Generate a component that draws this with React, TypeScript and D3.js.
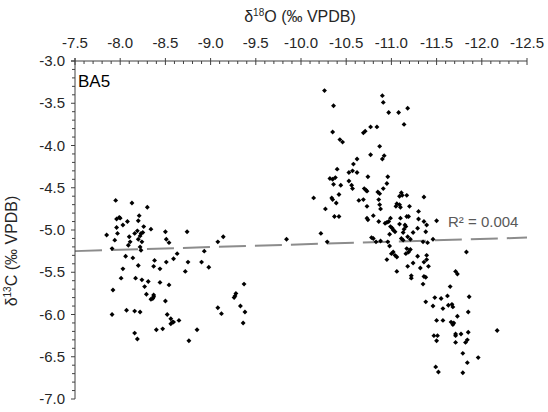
import React from "react";
import * as d3 from "d3";

// δ18O (x) and δ13C (y) pairs
const clusterLow: [number, number][] = [
  [-7.95,-4.65],[-8.13,-4.68],[-8.30,-4.73],[-7.96,-4.87],[-7.99,-4.85],[-8.00,-4.86],[-8.21,-4.83],[-8.20,-4.89],[-8.08,-4.90],[-8.03,-4.94],
  [-7.96,-4.97],[-8.26,-4.96],[-8.34,-4.99],[-7.85,-5.06],[-7.97,-5.04],[-8.16,-5.04],[-8.19,-5.01],[-8.23,-5.04],[-8.25,-5.03],[-8.10,-5.08],
  [-8.22,-5.07],[-7.94,-5.12],[-8.20,-5.11],[-8.24,-5.14],[-8.11,-5.14],[-8.09,-5.18],[-8.50,-5.02],[-8.51,-5.11],[-8.54,-5.15],[-8.74,-5.02],
  [-7.91,-5.22],[-8.23,-5.24],[-8.22,-5.20],[-9.08,-5.14],[-9.14,-5.08],[-8.93,-5.25],[-8.06,-5.31],[-8.14,-5.33],[-8.63,-5.28],[-8.59,-5.34],
  [-8.38,-5.36],[-8.51,-5.38],[-8.75,-5.38],[-8.90,-5.38],[-8.20,-5.42],[-8.37,-5.43],[-8.44,-5.46],[-8.03,-5.46],[-8.98,-5.44],[-8.72,-5.49],
  [-8.01,-5.57],[-8.17,-5.57],[-8.24,-5.59],[-8.31,-5.61],[-8.44,-5.62],[-8.27,-5.67],[-8.54,-5.65],[-7.92,-5.71],[-9.37,-5.64],[-8.29,-5.76],
  [-8.37,-5.77],[-8.37,-5.79],[-8.34,-5.82],[-8.36,-5.81],[-9.28,-5.75],[-9.27,-5.78],[-9.26,-5.80],[-8.50,-5.84],[-9.33,-5.90],[-9.08,-5.92],
  [-8.07,-5.95],[-8.16,-5.96],[-8.22,-5.97],[-7.91,-6.00],[-9.12,-5.99],[-9.38,-5.97],[-8.52,-6.00],[-8.56,-6.05],[-8.59,-6.09],[-8.56,-6.11],
  [-8.58,-6.09],[-8.65,-6.07],[-9.36,-6.10],[-8.16,-6.22],[-8.19,-6.29],[-8.40,-6.18],[-8.47,-6.17],[-8.85,-6.18],[-8.76,-6.31],
  [-9.84,-5.11],[-10.22,-5.04],[-10.29,-5.14],
];

const clusterHighUpper: [number, number][] = [
  [-10.26,-3.35],[-10.90,-3.41],[-10.91,-3.49],[-10.36,-3.53],[-10.97,-3.61],[-11.08,-3.61],[-11.18,-3.56],[-11.14,-3.75],[-10.77,-3.78],[-10.84,-3.78],
  [-10.71,-3.83],[-10.69,-3.85],[-10.35,-3.84],[-10.43,-3.93],[-10.46,-3.96],[-10.87,-4.01],[-10.77,-4.11],[-10.92,-4.12],[-10.90,-4.16],[-10.62,-4.16],
  [-10.58,-4.22],[-10.57,-4.30],[-10.53,-4.32],[-10.62,-4.32],[-10.40,-4.28],[-10.74,-4.37],[-10.96,-4.37],[-10.32,-4.39],[-10.35,-4.40],[-10.38,-4.38],
  [-10.36,-4.46],[-10.44,-4.47],[-10.53,-4.42],[-10.56,-4.47],[-10.57,-4.51],[-10.95,-4.45],[-10.91,-4.51],[-10.70,-4.51],[-10.72,-4.53],[-10.73,-4.54],
  [-10.85,-4.55],[-10.87,-4.57],[-10.42,-4.58],[-10.34,-4.62],[-10.35,-4.64],[-10.14,-4.62],[-10.39,-4.68],[-10.64,-4.65],[-10.69,-4.64],[-11.11,-4.56],
  [-11.09,-4.60],[-11.12,-4.59],[-11.17,-4.59],[-11.36,-4.61],[-10.86,-4.64],[-10.73,-4.72],[-10.87,-4.70],[-11.06,-4.69],[-11.05,-4.72],[-11.09,-4.70],
  [-11.10,-4.73],[-10.27,-4.75],[-11.20,-4.72],[-10.37,-4.84],[-10.42,-4.84],[-10.73,-4.86],[-10.74,-4.88],[-10.80,-4.83],[-10.88,-4.75],[-10.99,-4.86],
  [-11.10,-4.86],[-11.17,-4.84],[-11.19,-4.84],[-11.30,-4.78],[-11.30,-4.87],[-10.86,-4.90],[-10.93,-4.92],[-10.95,-4.91],[-10.97,-4.90],[-10.99,-4.96],
  [-11.01,-4.98],[-11.02,-5.00],[-11.09,-4.93],[-11.15,-4.94],[-11.16,-4.96],[-11.36,-4.90],[-11.39,-4.94],[-11.04,-5.02],[-10.98,-5.05],[-11.14,-4.99],
  [-11.13,-5.03],[-11.24,-5.03],[-11.29,-4.98],[-11.38,-5.02],[-10.78,-5.09],[-10.80,-5.10],[-10.83,-5.14],[-10.88,-5.13],[-10.96,-5.14],[-11.11,-5.10],
  [-11.13,-5.12],[-11.18,-5.08],[-11.21,-5.11],[-11.35,-5.14],[-11.40,-5.15],[-10.98,-5.19],[-11.02,-5.26],[-11.04,-5.30],[-11.06,-5.32],[-11.00,-5.28],
  [-11.17,-5.22],[-11.19,-5.26],[-11.16,-5.28],[-11.21,-5.23],[-11.29,-5.31],[-11.39,-5.30],[-10.95,-5.35],[-11.18,-5.43],[-11.24,-5.39],[-11.32,-5.45],
  [-11.36,-5.38],[-11.39,-5.35],[-11.41,-5.43],
];

const clusterHighLower: [number, number][] = [
  [-11.50,-4.89],[-11.46,-5.11],[-11.83,-5.26],[-11.06,-5.49],[-11.22,-5.54],[-11.22,-5.57],[-11.36,-5.55],[-11.38,-5.56],[-11.35,-5.64],[-11.71,-5.49],
  [-11.73,-5.52],[-11.65,-5.67],[-11.38,-5.85],[-11.48,-5.80],[-11.55,-5.81],[-11.62,-5.78],[-11.86,-5.79],[-11.46,-5.90],[-11.57,-5.93],[-11.63,-5.89],
  [-11.67,-5.88],[-11.68,-5.91],[-11.85,-5.97],[-11.73,-6.02],[-11.50,-6.07],[-11.57,-6.07],[-11.66,-6.09],[-11.69,-6.10],[-11.68,-6.12],[-12.17,-6.19],
  [-11.47,-6.25],[-11.51,-6.25],[-11.50,-6.31],[-11.71,-6.23],[-11.71,-6.25],[-11.77,-6.23],[-11.85,-6.21],[-11.71,-6.33],[-11.82,-6.33],[-11.84,-6.30],
  [-11.79,-6.46],[-11.96,-6.51],[-11.84,-6.57],[-11.49,-6.62],[-11.52,-6.68],[-11.79,-6.69],
];

const xTickLabels = [-7.5, -8.0, -8.5, -9.0, -9.5, -10.0, -10.5, -11.0, -11.5, -12.0, -12.5];
const yTickLabels = [-3.0, -3.5, -4.0, -4.5, -5.0, -5.5, -6.0, -6.5, -7.0];
const trendX = [-7.5, -12.5];
const trendY = [-5.25, -5.09];
const r2Text = "R² = 0.004";
const sampleName = "BA5";

const W = 548, H = 412;
const FONT = "Arial, 'Liberation Sans', sans-serif";

export default function App() {
  const x = d3.scaleLinear().domain([-7.5, -12.5]).range([75, 527]);
  const y = d3.scaleLinear().domain([-3, -7]).range([61, 399]);
  const allPts = [...clusterLow, ...clusterHighUpper, ...clusterHighLower];
  const diamond = d3.symbol().type(d3.symbolSquare).size(12)();
  const xMinor = d3.range(0, 51).map((i) => -7.5 - i * 0.1);
  const yMinor = d3.range(0, 41).map((i) => -3 - i * 0.1);
  const line = d3.line<number>().x((d) => x(trendX[d])).y((d) => y(trendY[d]));
  const axisColor = "#404040";
  const textColor = "#262626";

  return (
    <svg width={W} height={H} style={{ position: "absolute", left: 0, top: 0, background: "#fff" }}>
      <rect width={W} height={H} fill="#fff" />
      {/* trend line */}
      <path d={line([0, 1]) || ""} stroke="#8c8c8c" strokeWidth={2} strokeDasharray="27 9" fill="none" />
      {/* points */}
      {allPts.map((p, i) => (
        <path key={i} d={diamond} transform={`translate(${x(p[0])},${y(p[1])}) rotate(45)`} fill="#000" />
      ))}
      {/* top axis */}
      <line x1={x(-7.5) - 4} x2={x(-12.5)} y1={y(-3)} y2={y(-3)} stroke={axisColor} strokeWidth={1} />
      {xMinor.map((v, i) => (
        <line key={"xm" + i} x1={x(v)} x2={x(v)} y1={i % 5 === 0 ? y(-3) - 3 : y(-3)} y2={y(-3) + (i % 5 === 0 ? 4 : 3)} stroke={axisColor} strokeWidth={1} />
      ))}
      {xTickLabels.map((v) => (
        <text key={"xt" + v} x={x(v)} y={48} textAnchor="middle" fontFamily={FONT} fontSize={15} fill={textColor}>
          {v.toFixed(1)}
        </text>
      ))}
      {/* left axis */}
      <line x1={x(-7.5)} x2={x(-7.5)} y1={y(-3) - 3} y2={y(-7)} stroke={axisColor} strokeWidth={1} />
      {yMinor.map((v, i) => (
        <line key={"ym" + i} x1={x(-7.5) - (i % 5 === 0 ? 4 : 3)} x2={x(-7.5)} y1={y(v)} y2={y(v)} stroke={axisColor} strokeWidth={1} />
      ))}
      {yTickLabels.map((v) => (
        <text key={"yt" + v} x={65} y={y(v) + 5} textAnchor="end" fontFamily={FONT} fontSize={15} fill={textColor}>
          {v.toFixed(1)}
        </text>
      ))}
      {/* titles */}
      <text x={300} y={22} textAnchor="middle" fontFamily={FONT} fontSize={16} fill={textColor}>
        δ<tspan fontSize={10} dy={-6}>18</tspan><tspan dy={6}>O (‰ VPDB)</tspan>
      </text>
      <text transform={`translate(17,251) rotate(-90)`} textAnchor="middle" fontFamily={FONT} fontSize={16} fill={textColor}>
        δ<tspan fontSize={10} dy={-6}>13</tspan><tspan dy={6}>C (‰ VPDB)</tspan>
      </text>
      <text x={78} y={87} fontFamily={FONT} fontSize={17} fill="#000">{sampleName}</text>
      <text x={448} y={227} fontFamily={FONT} fontSize={15} fill="#595959">{r2Text}</text>
    </svg>
  );
}
